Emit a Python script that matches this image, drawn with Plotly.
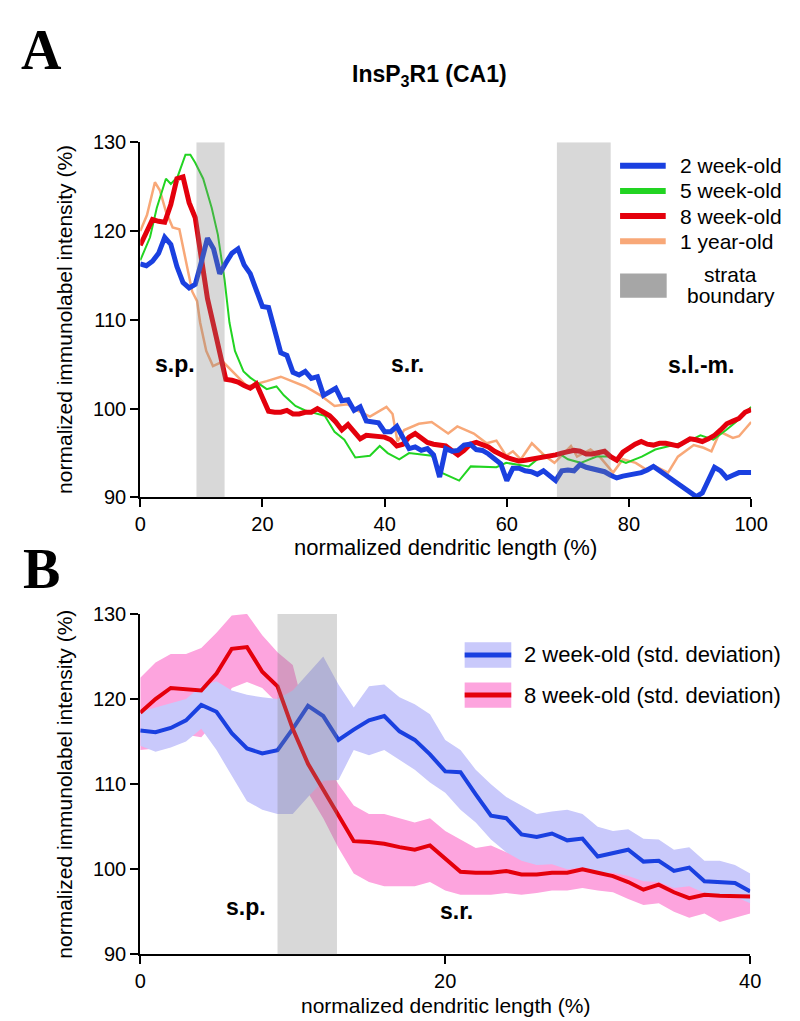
import plotly.graph_objects as go

# ---- data -------------------------------------------------------------
# mean profiles, x = normalized dendritic length 0..100 % (1 % steps)
pct = list(range(101))

wk2_mean = [116.3, 116.1, 116.6, 117.5, 119.3, 118.5, 116.0, 114.2, 113.6, 114.0,
            116.5, 119.2, 118.0, 115.2, 116.4, 117.5, 118.0, 116.2, 115.2, 113.5,
            111.5, 111.4, 108.8, 106.3, 106.0, 104.1, 103.8, 104.2, 103.4, 103.6,
            101.5, 101.9, 102.3, 100.9, 101.0, 99.8, 100.2, 98.6, 98.5, 98.4,
            97.4, 97.4, 98.0, 96.8, 95.5, 95.7, 95.3, 95.5, 94.8, 92.3,
            95.5, 95.2, 95.3, 95.9, 96.0, 95.4, 95.3, 94.9, 94.4, 93.8,
            91.9, 93.3, 93.3, 93.0, 92.9, 92.6, 93.0, 92.5, 91.9, 93.0,
            93.1, 93.0, 93.7, 93.4, 93.2, 93.0, 92.9, 92.5, 92.2, 92.4,
            92.5, 92.6, 92.8, 93.1, 93.5, 93.0, 92.5, 92.1, 91.6, 91.0,
            90.5, 90.1, 90.5, 91.8, 93.4, 93.0, 92.2, 92.5, 92.8, 92.8, 92.8]

wk8_mean = [118.4, 120.0, 121.3, 121.1, 121.0, 123.0, 125.9, 126.1, 123.2, 121.5,
            116.5, 112.4, 109.4, 106.3, 103.3, 103.2, 103.0, 102.6, 102.3, 102.8,
            101.2, 99.7, 99.6, 99.6, 99.8, 99.4, 99.4, 99.6, 99.6, 100.0,
            99.6, 99.2, 98.5, 97.6, 98.2, 97.3, 96.6, 97.0, 96.9, 96.9,
            96.8, 96.5, 95.8, 96.0, 96.8, 97.2, 96.7, 96.2, 96.0, 95.9,
            95.8, 95.3, 94.8, 95.3, 96.0, 96.2, 95.9, 95.7, 95.2, 94.8,
            94.5, 94.3, 94.1, 94.2, 94.3, 94.4, 94.6, 94.7, 94.8, 95.0,
            95.2, 95.3, 95.2, 94.9, 94.9, 95.1, 95.2, 94.6, 94.2, 95.1,
            95.6, 96.0, 96.3, 96.0, 95.9, 96.1, 96.1, 95.9, 95.8, 96.2,
            96.6, 96.5, 96.3, 96.6, 97.0, 97.6, 98.3, 98.6, 98.9, 99.6, 99.9]

wk5_x = [0, 1.6, 2.7, 4.2, 5.0, 6.1, 7.4, 8.2, 9.0, 10.3, 11.7, 12.7, 13.8, 14.6, 15.5,
         16.9, 18, 20.7, 22.3, 23.5, 25.4, 27, 30.2, 31.8, 33.4, 35.2, 37.6, 39.2, 40.5,
         42.4, 44, 47.7, 49.3, 52.2, 54.1, 58.3, 59.9, 63.6, 65.7, 68.9, 70, 72.1, 74.7,
         76.8, 79.5, 82.1, 84.3, 86.9, 89.6, 91.7, 93.8, 95.9, 97.5, 100]
wk5_y = [116.7, 119.3, 122.6, 125.9, 125.3, 126.1, 128.6, 128.6, 127.7, 125.9, 122.6, 119.6,
         114.5, 109.7, 106.5, 104.2, 103.5, 102.2, 102.5, 101.5, 100.3, 99.8, 99.2, 97.4,
         96.5, 94.5, 94.7, 95.8, 95.0, 94.3, 95.0, 94.7, 92.8, 91.9, 93.5, 93.4, 93.9, 93.5,
         94.7, 94.8, 94.3, 93.9, 94.6, 94.6, 93.9, 94.6, 95.4, 95.8, 96.3, 97.0, 96.5, 97.6,
         98.5, 100.2]

yr1_x = [0, 1.1, 2.4, 3.2, 4.2, 5.3, 6.4, 7.7, 8.5, 9.3, 9.8, 10.8, 11.9, 13.5, 15.1, 17.5,
         20.7, 23, 27, 29.5, 31.8, 33.9, 35.5, 37.6, 40.3, 41.3, 42.1, 43.2, 45.6, 47.7, 50.4,
         51.9, 54.6, 56.7, 58.3, 59.9, 61, 62.3, 64.1, 66.2, 67.8, 70.5, 71.5, 73.7, 75.2,
         77.4, 79, 81.1, 82.7, 84.3, 86.4, 88, 90.6, 92.2, 93.5, 94.9, 97, 98, 100]
yr1_y = [120.0, 121.8, 125.5, 124.6, 122.2, 120.4, 120.2, 116.0, 113.2, 112.1, 109.7, 106.5,
         104.8, 105.3, 104.2, 102.5, 103.1, 103.6, 102.5, 101.5, 100.3, 100.5, 99.8, 99.1,
         100.2, 99.4, 96.3, 97.6, 98.3, 98.5, 97.2, 98.0, 97.2, 96.1, 96.4, 94.7, 95.2, 94.3,
         96.1, 94.7, 93.9, 95.8, 94.6, 95.4, 94.6, 92.8, 94.3, 93.9, 93.2, 93.5, 92.8, 94.6,
         95.9, 95.6, 95.2, 97.4, 96.7, 96.9, 98.5]

# std. deviation envelopes, x = 0..40 %
pct_b = pct[:41]
wk2_lo = [114.5, 113.8, 114.3, 115.0, 116.5, 114.0, 111.0, 108.0, 107.0, 106.5,
          106.5, 108.5, 110.4, 110.5, 114.0, 113.4, 114.0, 112.9, 111.7, 110.2,
          109.0, 107.0, 105.5, 103.5, 102.0, 101.0, 100.5, 100.6, 100.0, 100.2,
          99.5, 99.6, 99.2, 98.6, 98.5, 97.8, 98.0, 97.2, 96.8, 96.8, 96.0]
wk2_hi = [118.5, 119.0, 119.5, 120.0, 121.5, 122.1, 121.0, 120.5, 120.2, 120.0,
          121.0, 123.0, 125.0, 121.7, 119.0, 121.5, 121.7, 120.2, 119.4, 118.2,
          115.2, 114.0, 111.7, 110.0, 108.5, 107.5, 106.5, 106.8, 107.0, 106.5,
          105.0, 104.5, 104.7, 103.6, 103.5, 102.3, 102.6, 101.0, 101.0, 100.5, 99.5]
wk8_lo = [114.0, 114.2, 115.2, 115.8, 115.5, 117.5, 121.3, 122.0, 121.3, 119.5,
          113.0, 109.0, 106.0, 102.5, 99.5, 98.5, 98.0, 98.0, 98.0, 98.5,
          97.5, 97.0, 97.0, 97.0, 97.2, 97.0, 97.2, 97.5, 97.5, 97.8,
          97.5, 97.3, 96.5, 95.8, 96.0, 95.0, 94.3, 94.8, 93.8, 94.3, 94.8]
wk8_hi = [122.5, 124.3, 125.3, 125.3, 126.0, 127.8, 129.8, 130.0, 127.5, 125.5,
          124.0, 117.0, 113.0, 110.0, 107.5, 106.5, 106.5, 106.0, 105.5, 106.0,
          104.5, 103.5, 102.5, 102.8, 102.0, 102.0, 101.5, 101.2, 101.0, 101.3,
          101.0, 100.5, 100.2, 99.4, 99.6, 98.8, 98.4, 98.8, 98.7, 98.6, 98.5]

strata_a = [(9.2, 13.8), (68.2, 77.0)]
strata_b = [(9.0, 12.9)]

# ---- style ------------------------------------------------------------
FONT = "Liberation Sans, Arial, sans-serif"
SERIF = "Liberation Serif, Times New Roman, serif"
BLUE, GREEN, RED, ORANGE = "#1a40e0", "#22d422", "#e4000c", "#f8a878"
LAV, PINK = "#c9c9fb", "#fda4de"
W, H = 800, 1021


def fx(p):
    return p / W


def fy(p):
    return 1 - p / H


fig = go.Figure()

# panel A
for xs, ys, col, wd in [(yr1_x, yr1_y, ORANGE, 2.5), (wk5_x, wk5_y, GREEN, 2),
                        (pct, wk8_mean, RED, 5), (pct, wk2_mean, BLUE, 5)]:
    fig.add_trace(go.Scatter(x=xs, y=ys, mode="lines", line=dict(color=col, width=wd),
                             xaxis="x", yaxis="y"))

# panel B
for lo, hi, col in [(wk8_lo, wk8_hi, PINK), (wk2_lo, wk2_hi, LAV)]:
    fig.add_trace(go.Scatter(x=pct_b + pct_b[::-1], y=hi + lo[::-1], fill="toself",
                             fillcolor=col, line=dict(width=0), mode="lines",
                             xaxis="x2", yaxis="y2"))
fig.add_trace(go.Scatter(x=pct_b, y=wk2_mean[:41], mode="lines",
                         line=dict(color=BLUE, width=4), xaxis="x2", yaxis="y2"))
fig.add_trace(go.Scatter(x=pct_b, y=wk8_mean[:41], mode="lines",
                         line=dict(color=RED, width=4), xaxis="x2", yaxis="y2"))

shapes = []
for a, b in strata_a:
    shapes.append(dict(type="rect", xref="x", yref="y", x0=a, x1=b, y0=90, y1=130,
                       fillcolor="rgba(128,128,128,0.31)", line=dict(width=0), layer="above"))
for a, b in strata_b:
    shapes.append(dict(type="rect", xref="x2", yref="y2", x0=a, x1=b, y0=90, y1=130,
                       fillcolor="rgba(128,128,128,0.31)", line=dict(width=0), layer="above"))

annotations = []


def text(s, x, y, size=20, bold=False, family=FONT, xanchor="center", yanchor="middle", **kw):
    if bold:
        s = "<b>" + s + "</b>"
    annotations.append(dict(text=s, x=fx(x), y=fy(y), xref="paper", yref="paper",
                            showarrow=False, xanchor=xanchor, yanchor=yanchor,
                            font=dict(size=size, family=family, color="black"), **kw))


# legend A
for i, (lab, col) in enumerate([("2 week-old", BLUE), ("5 week-old", GREEN),
                                ("8 week-old", RED), ("1 year-old", ORANGE)]):
    yy = 150 + i * 25.7
    shapes.append(dict(type="line", xref="paper", yref="paper", x0=fx(624), x1=fx(671),
                       y0=fy(yy), y1=fy(yy), line=dict(color=col, width=6)))
    text(lab, 684, yy, size=21, xanchor="left")
shapes.append(dict(type="rect", xref="paper", yref="paper", x0=fx(624), x1=fx(672),
                   y0=fy(285), y1=fy(260), fillcolor="#a6a6a6", line=dict(width=0)))
text("strata", 738, 261, size=21)
text("boundary", 738, 283, size=21)

# legend B
for i, (lab, col, band) in enumerate([("2 week-old (std. deviation)", BLUE, LAV),
                                      ("8 week-old (std. deviation)", RED, PINK)]):
    yy = 650 + i * 41
    shapes.append(dict(type="rect", xref="paper", yref="paper", x0=fx(464), x1=fx(512),
                       y0=fy(yy + 13), y1=fy(yy - 13), fillcolor=band, line=dict(width=0)))
    shapes.append(dict(type="line", xref="paper", yref="paper", x0=fx(464), x1=fx(512),
                       y0=fy(yy), y1=fy(yy), line=dict(color=col, width=5)))
    text(lab, 523, yy, size=22, xanchor="left")

# labels
text("A", 28, 32, size=56, bold=True, family=SERIF)
text("B", 28, 562, size=56, bold=True, family=SERIF)
text("InsP<sub>3</sub>R1 (CA1)", 428, 58, size=23, bold=True)
text("s.p.", 166, 353, size=23, bold=True)
text("s.r.", 405, 353, size=23, bold=True)
text("s.l.-m.", 707, 354, size=23, bold=True)
text("s.p.", 239, 908, size=23, bold=True)
text("s.r.", 456, 912, size=23, bold=True)
text("normalized dendritic length (%)", 444, 540, size=22)
text("normalized dendritic length (%)", 444, 1008, size=21)
text("normalized immunolabel intensity (%)", 52, 307, size=21, textangle=-90)
text("normalized immunolabel intensity (%)", 52, 782, size=21, textangle=-90)

axis = dict(showline=True, linecolor="black", linewidth=2, ticks="outside", ticklen=8,
            tickwidth=2, tickcolor="black", showgrid=False, zeroline=False,
            tickfont=dict(size=20, family=FONT, color="black"))

fig.update_layout(
    width=W, height=H, margin=dict(l=0, r=0, t=0, b=0),
    paper_bgcolor="white", plot_bgcolor="white", showlegend=False,
    xaxis=dict(domain=[fx(130), fx(759)], range=[0, 100], tickvals=[0, 20, 40, 60, 80, 100],
               anchor="y", **axis),
    yaxis=dict(domain=[fy(489), fy(126)], range=[90, 130], tickvals=[90, 100, 110, 120, 130],
               anchor="x", **axis),
    xaxis2=dict(domain=[fx(130), fx(758)], range=[0, 40], tickvals=[0, 20, 40],
                anchor="y2", **axis),
    yaxis2=dict(domain=[fy(956), fy(608)], range=[90, 130], tickvals=[90, 100, 110, 120, 130],
                anchor="x2", **axis),
    shapes=shapes, annotations=annotations,
)

fig.write_html("out.html")
